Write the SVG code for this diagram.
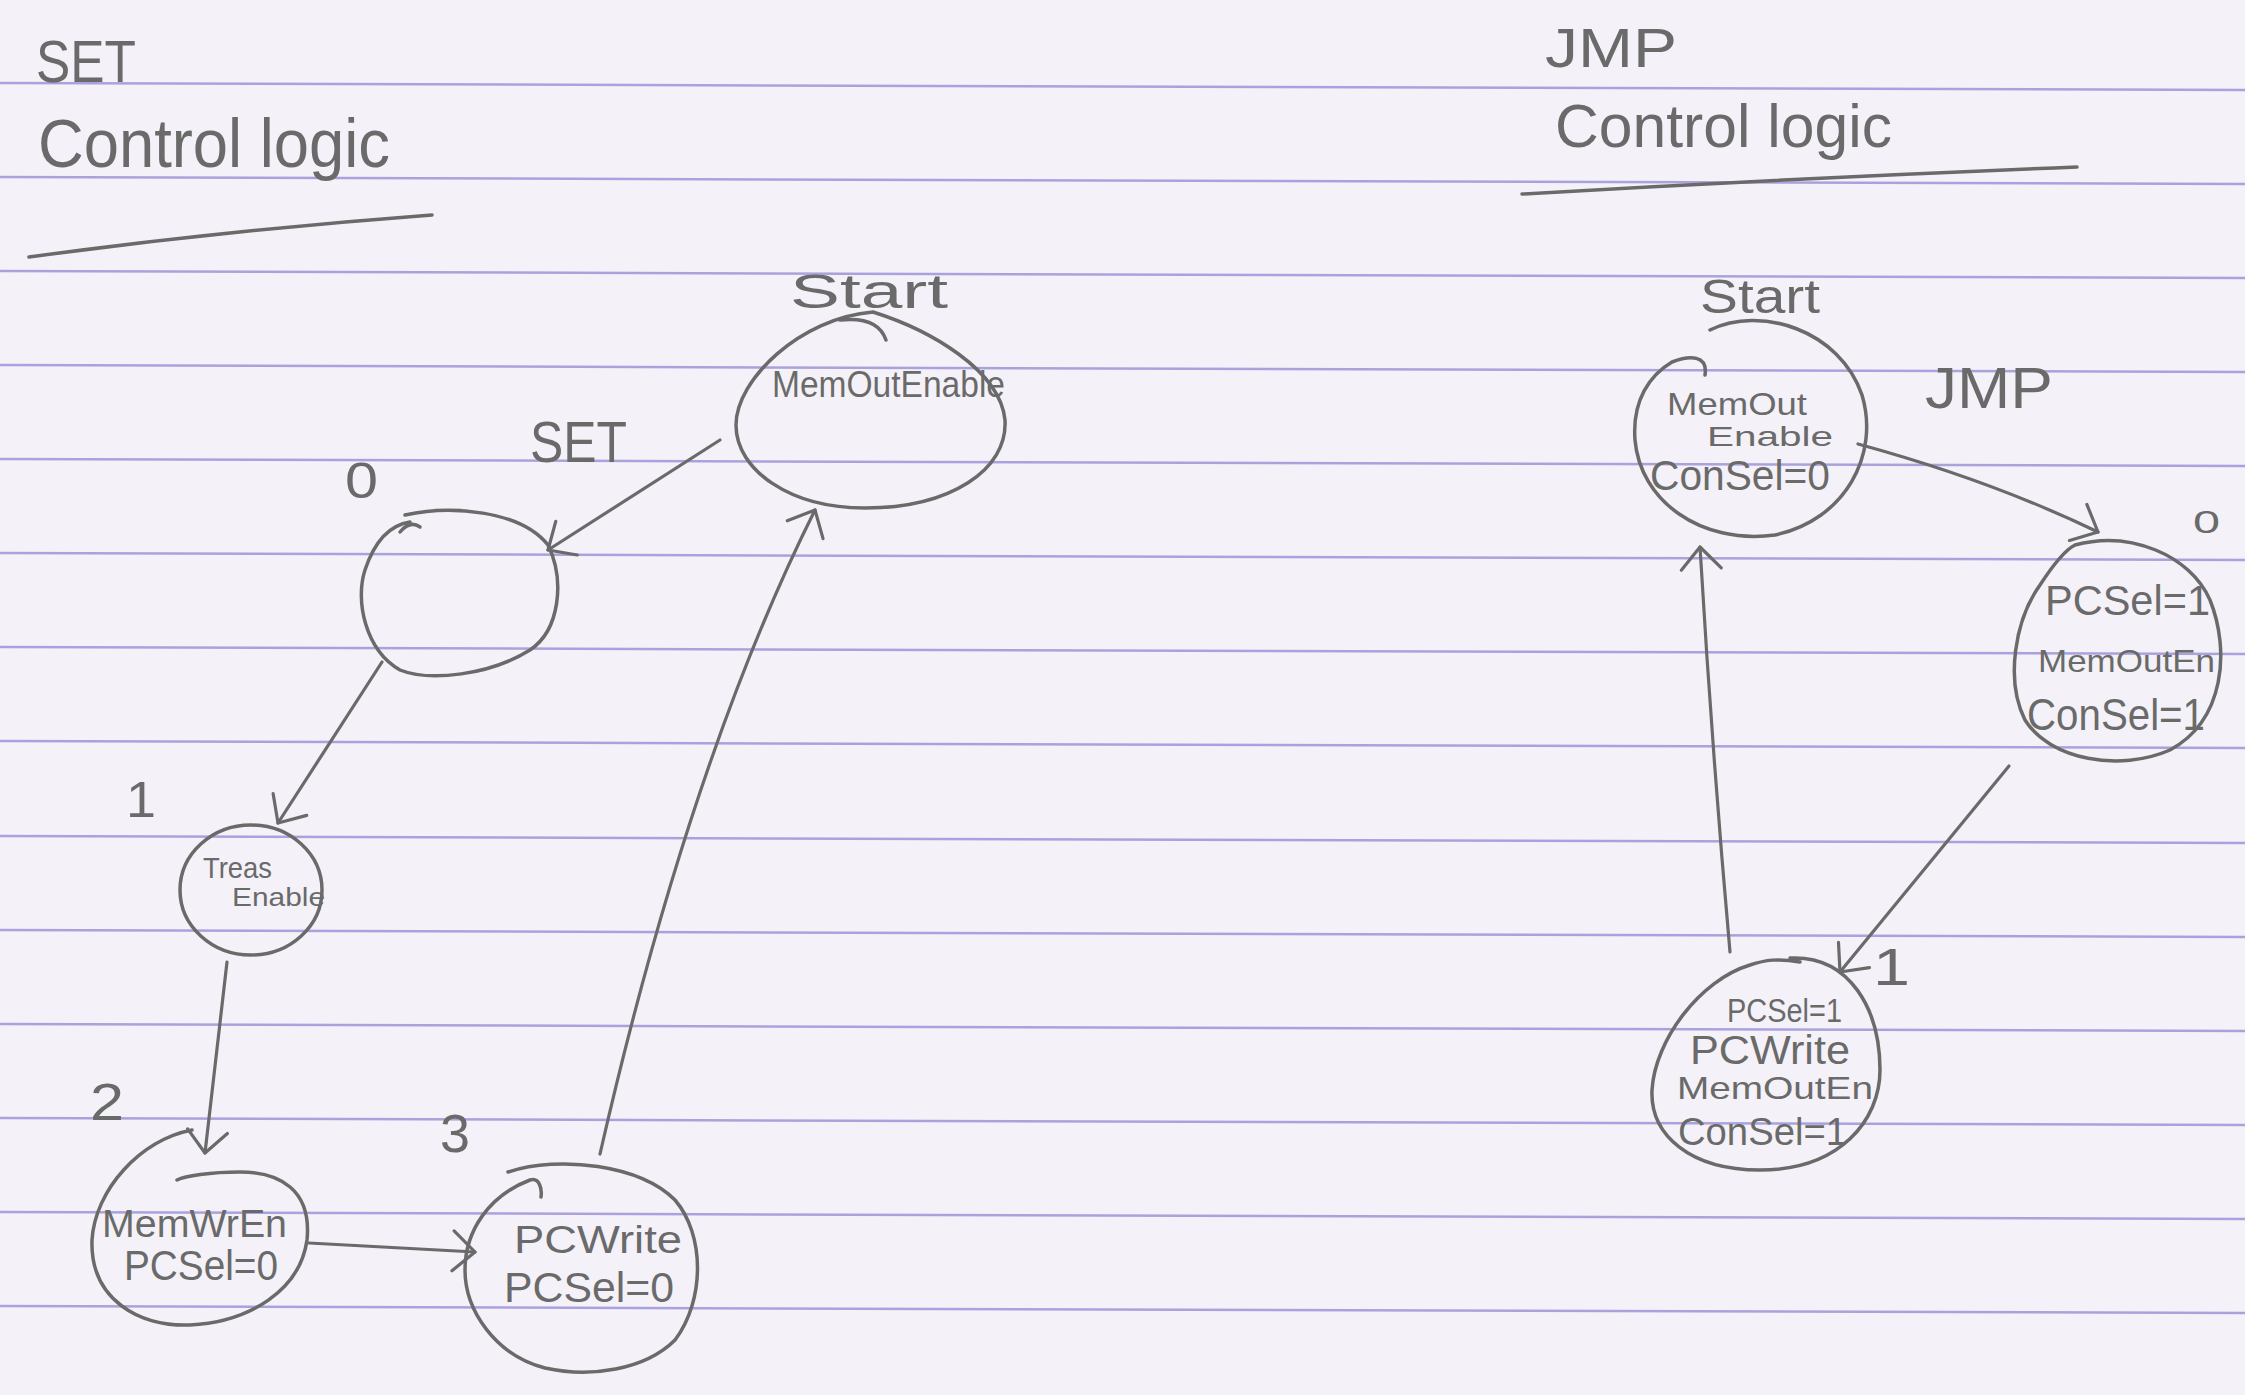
<svg xmlns="http://www.w3.org/2000/svg" width="2245" height="1395" viewBox="0 0 2245 1395">
<style>
.rule{stroke:#aaa2dc;stroke-width:2.5;fill:none}
.pencil{fill:none;stroke:#6a6a6a;stroke-width:3.5;stroke-linecap:round;stroke-linejoin:round}
.edge{fill:none;stroke:#6a6a6a;stroke-width:3.2;stroke-linecap:round;stroke-linejoin:round;marker-end:url(#arr)}
.t{font-family:"Liberation Sans",Arial,sans-serif;fill:#6a6a6a}
</style>
<defs>
<marker id="arr" markerUnits="userSpaceOnUse" markerWidth="60" markerHeight="60" refX="0" refY="0" viewBox="-30 -30 60 60" orient="auto">
<path d="M -22,-20 L 0,0 L -22,20" fill="none" stroke="#6a6a6a" stroke-width="3.2" stroke-linecap="round" stroke-linejoin="round"/>
</marker>
</defs>
<rect x="0" y="0" width="2245" height="1395" fill="#f4f2f8"/>
<g id="ruled-paper">
<line class="rule" x1="0" y1="83" x2="2245" y2="90"/>
<line class="rule" x1="0" y1="177" x2="2245" y2="184"/>
<line class="rule" x1="0" y1="271" x2="2245" y2="278"/>
<line class="rule" x1="0" y1="365" x2="2245" y2="372"/>
<line class="rule" x1="0" y1="459" x2="2245" y2="466"/>
<line class="rule" x1="0" y1="553" x2="2245" y2="560"/>
<line class="rule" x1="0" y1="647" x2="2245" y2="654"/>
<line class="rule" x1="0" y1="741" x2="2245" y2="748"/>
<line class="rule" x1="0" y1="836" x2="2245" y2="843"/>
<line class="rule" x1="0" y1="930" x2="2245" y2="937"/>
<line class="rule" x1="0" y1="1024" x2="2245" y2="1031"/>
<line class="rule" x1="0" y1="1118" x2="2245" y2="1125"/>
<line class="rule" x1="0" y1="1212" x2="2245" y2="1219"/>
<line class="rule" x1="0" y1="1306" x2="2245" y2="1313"/>
</g>
<g id="title-set">
<text class="t" x="36" y="82" font-size="60" textLength="100" lengthAdjust="spacingAndGlyphs">SET</text>
<text class="t" x="38" y="167" font-size="68" textLength="352" lengthAdjust="spacingAndGlyphs">Control logic</text>
<path class="pencil" d="M 29,257 Q 230,230 432,215"/>
</g>
<g id="title-jmp">
<text class="t" x="1545" y="67" font-size="56" textLength="132" lengthAdjust="spacingAndGlyphs">JMP</text>
<text class="t" x="1555" y="147" font-size="62" textLength="337" lengthAdjust="spacingAndGlyphs">Control logic</text>
<path class="pencil" d="M 1522,194 Q 1800,178 2077,167"/>
</g>
<g id="connectors">
<path class="edge" d="M 720,440 L 548,550"/>
<path class="edge" d="M 382,662 L 278,823"/>
<path class="edge" d="M 227,962 L 205,1153"/>
<path class="edge" d="M 309,1243 L 475,1252"/>
<path class="edge" d="M 600,1154 Q 690,760 815,510"/>
<path class="edge" d="M 1858,444 Q 1990,480 2098,532"/>
<path class="edge" d="M 2009,766 L 1840,972"/>
<path class="edge" d="M 1730,952 Q 1712,750 1700,547"/>
<text class="t" x="530" y="462" font-size="58" textLength="97" lengthAdjust="spacingAndGlyphs">SET</text>
<text class="t" x="1925" y="408" font-size="58" textLength="128" lengthAdjust="spacingAndGlyphs">JMP</text>
</g>
<g id="set-start">
<path class="pencil" d="M 873,312 C 930,330 1000,370 1005,420 C 1008,470 950,508 865,508 C 790,508 736,470 736,425 C 736,380 800,318 873,312 Z"/>
<path class="pencil" d="M 840,320 Q 878,316 886,340"/>
<text class="t" x="790" y="308" font-size="48" textLength="158" lengthAdjust="spacingAndGlyphs">Start</text>
<text class="t" x="772" y="397" font-size="36" textLength="233" lengthAdjust="spacingAndGlyphs">MemOutEnable</text>
</g>
<g id="set-0">
<path class="pencil" d="M 405,515 C 450,505 520,510 548,545 C 565,580 560,630 530,650 C 490,675 430,682 400,670 C 365,650 355,600 365,570 C 375,540 390,525 410,522"/>
<path class="pencil" d="M 400,532 Q 410,520 420,527"/>
<text class="t" x="345" y="498" font-size="50" textLength="33" lengthAdjust="spacingAndGlyphs">0</text>
</g>
<g id="set-1">
<ellipse class="pencil" cx="251" cy="890" rx="71" ry="65"/>
<text class="t" x="126" y="817" font-size="50" textLength="30" lengthAdjust="spacingAndGlyphs">1</text>
<text class="t" x="203" y="878" font-size="30" textLength="69" lengthAdjust="spacingAndGlyphs">Treas</text>
<text class="t" x="232" y="906" font-size="26" textLength="93" lengthAdjust="spacingAndGlyphs">Enable</text>
</g>
<g id="set-2">
<path class="pencil" d="M 192,1130 C 140,1140 95,1190 92,1240 C 90,1300 140,1327 190,1325 C 250,1322 300,1290 307,1240 C 312,1190 280,1172 240,1172 C 210,1172 185,1176 177,1180"/>
<text class="t" x="90" y="1120" font-size="52" textLength="34" lengthAdjust="spacingAndGlyphs">2</text>
<text class="t" x="102" y="1237" font-size="38" textLength="185" lengthAdjust="spacingAndGlyphs">MemWrEn</text>
<text class="t" x="124" y="1280" font-size="42" textLength="154" lengthAdjust="spacingAndGlyphs">PCSel=0</text>
</g>
<g id="set-3">
<path class="pencil" d="M 508,1172 C 560,1155 640,1165 675,1200 C 705,1235 705,1300 675,1340 C 645,1370 590,1378 545,1368 C 495,1355 465,1310 465,1270 C 465,1230 490,1195 530,1180 C 540,1177 542,1190 541,1197"/>
<text class="t" x="440" y="1152" font-size="54" textLength="30" lengthAdjust="spacingAndGlyphs">3</text>
<text class="t" x="514" y="1253" font-size="38" textLength="168" lengthAdjust="spacingAndGlyphs">PCWrite</text>
<text class="t" x="504" y="1302" font-size="42" textLength="170" lengthAdjust="spacingAndGlyphs">PCSel=0</text>
</g>
<g id="jmp-start">
<path class="pencil" d="M 1710,330 C 1760,305 1840,330 1862,395 C 1880,455 1845,520 1775,535 C 1700,545 1640,500 1635,440 C 1632,400 1650,375 1672,362 C 1690,355 1708,355 1705,375"/>
<text class="t" x="1700" y="313" font-size="48" textLength="120" lengthAdjust="spacingAndGlyphs">Start</text>
<text class="t" x="1667" y="415" font-size="32" textLength="140" lengthAdjust="spacingAndGlyphs">MemOut</text>
<text class="t" x="1707" y="446" font-size="28" textLength="126" lengthAdjust="spacingAndGlyphs">Enable</text>
<text class="t" x="1650" y="490" font-size="42" textLength="180" lengthAdjust="spacingAndGlyphs">ConSel=0</text>
</g>
<g id="jmp-0">
<path class="pencil" d="M 2075,545 C 2130,530 2190,555 2210,600 C 2230,650 2225,720 2170,750 C 2120,772 2050,760 2025,720 C 2005,680 2015,620 2040,585 C 2055,562 2065,550 2075,545 Z"/>
<text class="t" x="2193" y="533" font-size="32" textLength="27" lengthAdjust="spacingAndGlyphs">0</text>
<text class="t" x="2045" y="615" font-size="42" textLength="165" lengthAdjust="spacingAndGlyphs">PCSel=1</text>
<text class="t" x="2038" y="672" font-size="32" textLength="177" lengthAdjust="spacingAndGlyphs">MemOutEn</text>
<text class="t" x="2027" y="730" font-size="44" textLength="178" lengthAdjust="spacingAndGlyphs">ConSel=1</text>
</g>
<g id="jmp-1">
<path class="pencil" d="M 1790,958 C 1850,955 1880,1010 1880,1070 C 1880,1120 1840,1170 1760,1170 C 1690,1170 1650,1135 1652,1090 C 1655,1040 1700,980 1750,965 C 1765,960 1778,958 1800,962"/>
<text class="t" x="1873" y="985" font-size="52" textLength="37" lengthAdjust="spacingAndGlyphs">1</text>
<text class="t" x="1727" y="1022" font-size="34" textLength="115" lengthAdjust="spacingAndGlyphs">PCSel=1</text>
<text class="t" x="1690" y="1064" font-size="40" textLength="160" lengthAdjust="spacingAndGlyphs">PCWrite</text>
<text class="t" x="1677" y="1099" font-size="32" textLength="196" lengthAdjust="spacingAndGlyphs">MemOutEn</text>
<text class="t" x="1678" y="1145" font-size="38" textLength="169" lengthAdjust="spacingAndGlyphs">ConSel=1</text>
</g>
</svg>
